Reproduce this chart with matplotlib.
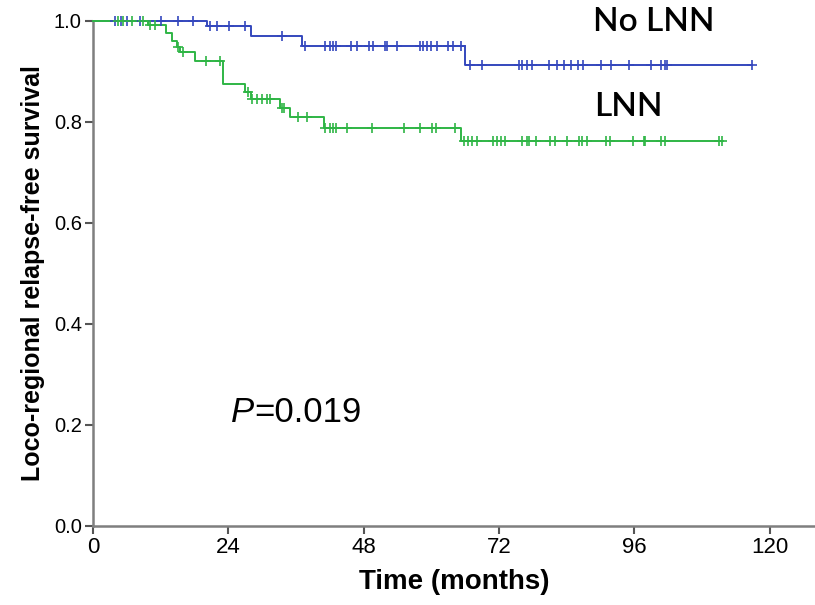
import numpy as np
import matplotlib
matplotlib.use("Agg")
import matplotlib.pyplot as plt

# ---- data ----
blue_event_t = [0, 20.2, 28.0, 37.0, 66.0]
blue_surv = [1.0, 0.989, 0.969, 0.950, 0.913]
blue_end = 116.9
blue_censor = [4.0, 4.9, 6.0, 8.3, 12.1, 15.0, 17.7,
               20.8, 22.0, 24.1, 27.0,
               33.5,
               37.6, 41.2, 42.0, 42.6, 43.1, 45.8, 46.9, 48.9, 49.7, 51.8, 52.2, 53.9,
               58.0, 58.6, 59.2, 59.9, 61.0, 63.0, 63.9, 65.2,
               66.9, 69.0, 75.5, 76.1, 77.0, 77.8, 80.8, 82.3, 83.5, 84.7, 85.9, 86.9,
               90.0, 91.9, 95.0, 98.9, 100.7, 101.4, 101.8, 116.9]

green_event_t = [0, 9.8, 13.0, 14.0, 14.9, 15.4, 18.1, 23.1, 27.0, 28.0, 33.2, 35.0, 40.9, 65.2]
green_surv = [1.0, 0.991, 0.976, 0.959, 0.948, 0.937, 0.919, 0.875, 0.859, 0.844, 0.827, 0.809, 0.788, 0.761]
green_end = 111.6
green_censor = [4.4, 5.3, 7.0, 8.8, 10.2, 11.0, 15.1, 16.0, 20.0, 22.6,
                27.5, 28.2, 29.1, 30.0, 30.9, 31.4, 33.5, 33.9, 36.4, 37.9,
                41.2, 42.0, 42.6, 43.1, 45.0, 49.5, 55.1, 57.9, 60.1, 60.9, 64.1,
                65.8, 66.5, 67.2, 68.0, 70.9, 71.6, 72.4, 73.0, 76.0, 77.0, 77.3, 78.5,
                81.1, 82.0, 84.1, 86.1, 86.7, 87.6, 90.9, 91.7, 95.8, 97.6, 97.9,
                100.7, 101.4, 111.0, 111.6]

x_ticks = [0, 24, 48, 72, 96, 120]
y_ticks = [0.0, 0.2, 0.4, 0.6, 0.8, 1.0]

FONT = 'Liberation Sans'

fig = plt.figure(figsize=(8.15, 6.05), dpi=100)
ax = fig.add_axes([0.114, 0.131, 0.886, 0.835])

def draw(ev_t, surv, end, cens, color):
    t = list(ev_t) + [end]
    s = list(surv) + [surv[-1]]
    ax.step(t, s, where='post', color=color, lw=1.4, clip_on=False, zorder=3)
    idx = np.searchsorted(np.array(ev_t), np.array(cens), side='right') - 1
    cy = np.array(surv)[idx]
    ax.plot(cens, cy, ls='none', marker='+', ms=7, mew=1.2, color=color, clip_on=False, zorder=4)

draw(blue_event_t, blue_surv, blue_end, blue_censor, '#3447bd')
draw(green_event_t, green_surv, green_end, green_censor, '#2fb545')

ax.set_xlim(0, 128)
ax.set_ylim(0, 1.0)
ax.set_xticks(x_ticks)
ax.set_yticks(y_ticks)
ax.set_xticklabels([str(v) for v in x_ticks], fontsize=16, family=FONT)
ax.set_yticklabels([f"{v:.1f}" for v in y_ticks], fontsize=14.5, family=FONT)
for sp in ['top', 'right']:
    ax.spines[sp].set_visible(False)
for sp in ['left', 'bottom']:
    ax.spines[sp].set_color('#7f7f7f')
    ax.spines[sp].set_linewidth(1.8)
ax.tick_params(axis='both', colors='#555555', length=6, width=1.5, labelcolor='black', pad=2)

ax.set_xlabel('Time (months)', fontsize=20, fontweight='bold', family=FONT, labelpad=8)
ax.set_ylabel('Loco-regional relapse-free survival', fontsize=18, fontweight='bold',
              family=FONT, labelpad=6)

fig.text(654/815, 1 - 22/605, 'No LNN', fontsize=24, fontweight='semibold', family='Lato',
         ha='center', va='center')
fig.text(628/815, 1 - 107/605, 'LNN', fontsize=24, fontweight='semibold', family='Lato',
         ha='center', va='center')

txt = ax.text(24.5, 0.225, 'P', fontsize=25, style='italic', family=FONT,
              ha='left', va='center')
fig.canvas.draw()
bb = txt.get_window_extent()
x_end = ax.transData.inverted().transform((bb.x1, bb.y0))[0]
ax.text(x_end, 0.225, '=0.019', fontsize=25, family=FONT, ha='left', va='center')

fig.savefig('out.png', dpi=100, facecolor='white')
